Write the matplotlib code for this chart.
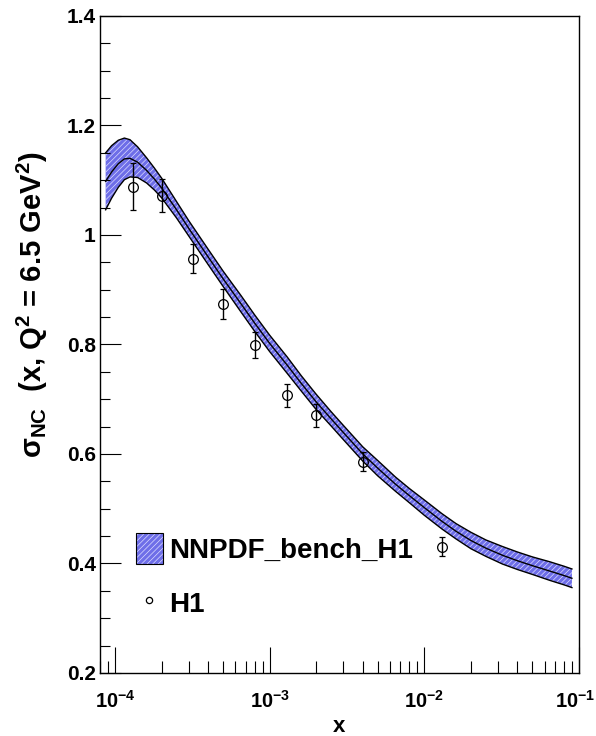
import matplotlib
matplotlib.use("Agg")
import matplotlib.pyplot as plt
import matplotlib.transforms as mtrans
from matplotlib.patches import Patch
from matplotlib.lines import Line2D
from matplotlib.ticker import FixedLocator, FuncFormatter, LogLocator, NullFormatter
import math

plt.rcParams['font.family'] = ['Liberation Sans', 'DejaVu Sans']
plt.rcParams['font.weight'] = 'bold'
plt.rcParams['mathtext.fontset'] = 'custom'
plt.rcParams['mathtext.rm'] = 'Liberation Sans:bold'
plt.rcParams['mathtext.it'] = 'Liberation Sans:bold'
plt.rcParams['mathtext.bf'] = 'Liberation Sans:bold'
plt.rcParams['mathtext.default'] = 'regular'
plt.rcParams['hatch.linewidth'] = 0.5

# NNPDF band: x, central value, half width
band_x = [8.7e-5, 9.5e-5, 1.05e-4, 1.15e-4, 1.25e-4, 1.4e-4, 1.6e-4, 1.8e-4, 2.0e-4,
          2.5e-4, 3.0e-4, 4.0e-4, 5.0e-4, 6.5e-4, 8.0e-4, 1.0e-3, 1.3e-3, 1.6e-3,
          2.0e-3, 2.5e-3, 3.0e-3, 4.0e-3, 5.0e-3, 6.5e-3, 8.0e-3, 1.0e-2, 1.3e-2,
          1.6e-2, 2.0e-2, 2.5e-2, 3.2e-2, 4.0e-2, 5.0e-2, 6.5e-2, 8.0e-2, 9.0e-2]
band_c = [1.098, 1.115, 1.130, 1.139, 1.140, 1.133, 1.118, 1.102, 1.086,
          1.046, 1.012, 0.960, 0.920, 0.875, 0.839, 0.802, 0.762, 0.729,
          0.695, 0.664, 0.639, 0.600, 0.574, 0.545, 0.524, 0.502, 0.477,
          0.459, 0.442, 0.428, 0.415, 0.405, 0.396, 0.386, 0.378, 0.373]
band_hw = [0.052, 0.048, 0.043, 0.038, 0.034, 0.028, 0.023, 0.020, 0.018,
           0.015, 0.014, 0.014, 0.014, 0.015, 0.015, 0.015, 0.015, 0.014,
           0.014, 0.013, 0.013, 0.013, 0.014, 0.013, 0.013, 0.014, 0.014,
           0.014, 0.015, 0.015, 0.016, 0.016, 0.016, 0.017, 0.017, 0.017]

# H1 data
h1_x = [1.3e-4, 2.0e-4, 3.2e-4, 5.0e-4, 8.0e-4, 1.3e-3, 2.0e-3, 4.0e-3, 1.3e-2]
h1_y = [1.088, 1.072, 0.957, 0.874, 0.799, 0.707, 0.671, 0.586, 0.431]
h1_err = [0.043, 0.030, 0.026, 0.028, 0.024, 0.021, 0.021, 0.017, 0.018]

band_lo = [c - h for c, h in zip(band_c, band_hw)]
band_hi = [c + h for c, h in zip(band_c, band_hw)]

fig = plt.figure(figsize=(5.96, 7.36), dpi=100)
ax = fig.add_axes([0.1678, 0.0856, 0.8037, 0.8927])

blue = '#6e6ee8'
hatch_col = '#dcdcff'
ax.fill_between(band_x, band_lo, band_hi, facecolor=blue, edgecolor=hatch_col,
                hatch='//////', linewidth=0, zorder=1)
ax.plot(band_x, band_hi, color='black', lw=1.0, zorder=2)
ax.plot(band_x, band_lo, color='black', lw=1.0, zorder=2)
ax.plot(band_x, band_c, color='black', lw=1.0, zorder=2)

ax.errorbar(h1_x, h1_y, yerr=h1_err, fmt='o', mfc='none', mec='black', ms=7,
            mew=0.9, ecolor='black', elinewidth=1.0, capsize=2.5, capthick=1.0, zorder=3)

ax.set_xscale('log')
ax.set_xlim(8e-5, 0.1)
ax.set_ylim(0.2, 1.4)

ax.xaxis.set_major_locator(FixedLocator([1e-4, 1e-3, 1e-2, 1e-1]))
ax.xaxis.set_minor_locator(LogLocator(base=10, subs=range(2, 10), numticks=20))
ax.xaxis.set_minor_formatter(NullFormatter())
ax.xaxis.set_major_formatter(FuncFormatter(
    lambda v, p: r'$10^{\mathregular{-%d}}$' % round(-math.log10(v))))
ax.yaxis.set_major_locator(FixedLocator([0.2, 0.4, 0.6, 0.8, 1.0, 1.2, 1.4]))
ax.yaxis.set_minor_locator(FixedLocator([0.25, 0.3, 0.35, 0.45, 0.5, 0.55, 0.65, 0.7, 0.75,
                                         0.85, 0.9, 0.95, 1.05, 1.1, 1.15, 1.25, 1.3, 1.35]))
ax.yaxis.set_major_formatter(FuncFormatter(lambda v, p: '%g' % v))

ax.tick_params(which='both', direction='in', top=False, right=False, labelsize=15, width=0.8)
ax.tick_params(axis='x', labelsize=14.5)
ax.tick_params(axis='y', which='major', length=15, pad=3)
ax.tick_params(axis='y', which='minor', length=7)
ax.tick_params(axis='x', which='major', length=19, pad=12)
ax.tick_params(axis='x', which='minor', length=9)
for s in ax.spines.values():
    s.set_linewidth(1.0)

# keep the last x label inside the canvas
last = ax.get_xticklabels()[-1]
last.set_transform(last.get_transform() + mtrans.ScaledTranslation(-4 / 100, 0, fig.dpi_scale_trans))

ax.set_xlabel('x', fontsize=16, fontweight='bold', labelpad=0)
ax.xaxis.set_label_coords(0.5, -0.066)
fig.text(0.055, 0.586, r'$\sigma_{NC}$  (x, Q$^2$ = 6.5 GeV$^2$)', rotation=90,
         fontsize=21, fontweight='bold', ha='center', va='center')

band_handle = (Patch(facecolor=blue, edgecolor=hatch_col, hatch='//////', linewidth=0),
               Patch(facecolor='none', edgecolor='black', linewidth=0.8))
h1_handle = Line2D([], [], marker='o', ls='none', mfc='none', mec='black', ms=4.5, mew=0.9)
ax.legend([band_handle, h1_handle], ['NNPDF_bench_H1', 'H1'], loc='upper left',
          bbox_to_anchor=(0.075, 0.213), frameon=False, fontsize=20,
          handlelength=0.97, handleheight=1.33, handletextpad=0.22, labelspacing=0.85,
          borderpad=0, borderaxespad=0)

fig.savefig('out.png', dpi=100)
